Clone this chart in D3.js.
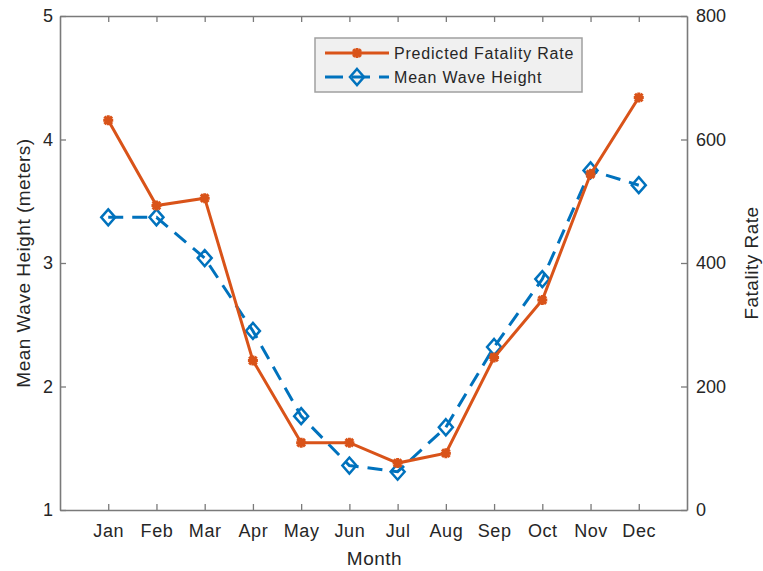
<!DOCTYPE html>
<html>
<head>
<meta charset="utf-8">
<script src="https://cdn.jsdelivr.net/npm/d3@7/dist/d3.min.js"></script>
<style>
  html, body { margin: 0; padding: 0; background: #fff; }
  svg { display: block; }
  text { font-family: "Liberation Sans", Arial, Helvetica, sans-serif; fill: #262626; }
</style>
</head>
<body>
<svg id="chart" width="763" height="571"></svg>
<script>
const months = ["Jan","Feb","Mar","Apr","May","Jun","Jul","Aug","Sep","Oct","Nov","Dec"];
const fatalityRate = [631, 493, 505, 242, 109, 109, 76, 92, 247, 340, 544, 668];
const waveHeight = [3.37, 3.37, 3.04, 2.45, 1.76, 1.36, 1.31, 1.67, 2.32, 2.87, 3.75, 3.63];
const leftTicks = [1, 2, 3, 4, 5];
const rightTicks = [0, 200, 400, 600, 800];

const svg = d3.select("#chart");
const L = 60, R = 687, T = 16, B = 510;
const red = "#D95319", blue = "#0072BD", axisCol = "#7a7a7a";

const x = d3.scaleLinear().domain([0, 13]).range([L, R]);
const yL = d3.scaleLinear().domain([1, 5]).range([B, T]);
const yR = d3.scaleLinear().domain([0, 800]).range([B, T]);

function styleAxis(g, fs) {
  g.select(".domain").attr("stroke", axisCol).attr("stroke-width", 1.6);
  g.selectAll(".tick line").attr("stroke", axisCol).attr("stroke-width", 1.3);
  g.selectAll(".tick text").attr("fill", "#262626").style("font-size", fs + "px")
    .style("font-family", '"Liberation Sans", Arial, sans-serif');
  g.attr("font-family", null).attr("font-size", null);
}

// bottom axis
const gB = svg.append("g").attr("transform", `translate(0,${B})`)
  .call(d3.axisBottom(x).tickValues(d3.range(1, 13)).tickFormat(i => months[i - 1])
    .tickSizeInner(-6).tickSizeOuter(0).tickPadding(14));
styleAxis(gB, 18);
gB.selectAll(".tick text").style("letter-spacing", "0.6px");

// top axis
const gT = svg.append("g").attr("transform", `translate(0,${T})`)
  .call(d3.axisTop(x).tickValues(d3.range(1, 13)).tickFormat("")
    .tickSizeInner(-6).tickSizeOuter(0));
styleAxis(gT, 18);

// left axis
const gL = svg.append("g").attr("transform", `translate(${L},0)`)
  .call(d3.axisLeft(yL).tickValues(leftTicks).tickFormat(d3.format("d"))
    .tickSizeInner(-6).tickSizeOuter(0).tickPadding(7));
styleAxis(gL, 18);

// right axis
const gR = svg.append("g").attr("transform", `translate(${R},0)`)
  .call(d3.axisRight(yR).tickValues(rightTicks).tickFormat(d3.format("d"))
    .tickSizeInner(-6).tickSizeOuter(0).tickPadding(9));
styleAxis(gR, 18);

// axis labels
svg.append("text").attr("x", (L + R) / 2 + 1).attr("y", 565).attr("text-anchor", "middle")
  .style("font-size", "19px").style("letter-spacing", "0.5px").text("Month");
svg.append("text").attr("transform", `translate(30,${(T + B) / 2}) rotate(-90)`)
  .attr("text-anchor", "middle").style("font-size", "19px").style("letter-spacing", "0.5px")
  .text("Mean Wave Height (meters)");
svg.append("text").attr("transform", `translate(758,${(T + B) / 2}) rotate(-90)`)
  .attr("text-anchor", "middle").style("font-size", "19px").style("letter-spacing", "0.5px")
  .text("Fatality Rate");

// series
const idx = d3.range(12);
const lineW = d3.line().x(i => x(i + 1)).y(i => yL(waveHeight[i]));
const lineF = d3.line().x(i => x(i + 1)).y(i => yR(fatalityRate[i]));

svg.append("path").attr("d", lineW(idx)).attr("fill", "none").attr("stroke", blue)
  .attr("stroke-width", 3).attr("stroke-dasharray", "15,9");
function diamond(g, cx, cy) {
  g.append("path").attr("d", `M${cx},${cy - 8}L${cx + 7},${cy}L${cx},${cy + 8}L${cx - 7},${cy}Z`)
    .attr("fill", "none").attr("stroke", blue).attr("stroke-width", 2.5);
}
const gWm = svg.append("g");
idx.forEach(i => diamond(gWm, x(i + 1), yL(waveHeight[i])));

svg.append("path").attr("d", lineF(idx)).attr("fill", "none").attr("stroke", red)
  .attr("stroke-width", 3);
function asterisk(g, cx, cy) {
  const r = 5, d = 3.8;
  g.append("path").attr("d",
    `M${cx - r},${cy}L${cx + r},${cy}M${cx},${cy - r}L${cx},${cy + r}` +
    `M${cx - d},${cy - d}L${cx + d},${cy + d}M${cx - d},${cy + d}L${cx + d},${cy - d}`)
    .attr("stroke", red).attr("stroke-width", 3).attr("fill", "none");
}
const gFm = svg.append("g");
idx.forEach(i => asterisk(gFm, x(i + 1), yR(fatalityRate[i])));

// legend
const lg = svg.append("g");
lg.append("rect").attr("x", 315).attr("y", 38).attr("width", 267).attr("height", 54)
  .attr("fill", "#f0f0f0").attr("stroke", "#a0a0a0").attr("stroke-width", 1.5);
lg.append("line").attr("x1", 325).attr("x2", 389).attr("y1", 53).attr("y2", 53)
  .attr("stroke", red).attr("stroke-width", 3);
asterisk(lg, 357, 53);
lg.append("line").attr("x1", 325).attr("x2", 389).attr("y1", 77).attr("y2", 77)
  .attr("stroke", blue).attr("stroke-width", 3).attr("stroke-dasharray", "18,9");
diamond(lg, 357, 77);
lg.append("text").attr("x", 394).attr("y", 59).style("font-size", "16px")
  .style("letter-spacing", "0.8px").text("Predicted Fatality Rate");
lg.append("text").attr("x", 394).attr("y", 83).style("font-size", "16px")
  .style("letter-spacing", "0.8px").text("Mean Wave Height");
</script>
</body>
</html>
